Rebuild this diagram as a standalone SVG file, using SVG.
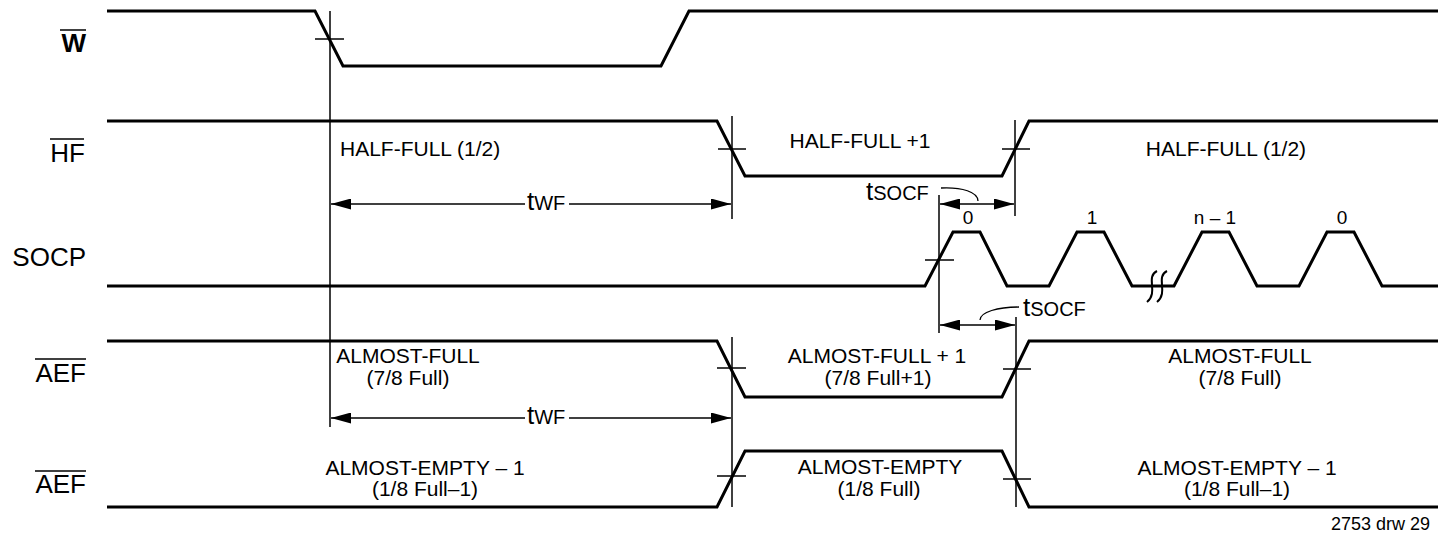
<svg xmlns="http://www.w3.org/2000/svg" width="1450" height="535" viewBox="0 0 1450 535">
<style>
.sig{fill:none;stroke:#000;stroke-width:3;stroke-linejoin:miter}
.ref{fill:none;stroke:#000;stroke-width:1.5}
.dim{fill:none;stroke:#000;stroke-width:1.3}
text{font-family:"Liberation Sans",Arial,sans-serif;fill:#000}
.lbl{font-size:26px;text-anchor:end}
.txt{font-size:21px;text-anchor:middle}
.num{font-size:19px;text-anchor:middle}
.t{font-size:26px}
.sub{font-size:20px}
</style>
<defs>
<marker id="ah" markerUnits="userSpaceOnUse" markerWidth="20" markerHeight="11" refX="20" refY="5.5" orient="auto-start-reverse">
<path d="M0,0 L20,5.5 L0,11 Z" fill="#000"/>
</marker>
</defs>
<rect width="1450" height="535" fill="#fff"/>

<g id="sig-W">
<text class="lbl" x="86" y="52" style="font-weight:bold">W</text>
<line class="ref" x1="60" y1="30" x2="86" y2="30"/>
<path class="sig" d="M107,11 H315 L343,66 H661 L689,11 H1438"/>
<line class="ref" x1="315" y1="39" x2="344" y2="39"/>
</g>

<g id="sig-HF">
<text class="lbl" x="85" y="162">HF</text>
<line class="ref" x1="50" y1="139" x2="84" y2="139"/>
<path class="sig" d="M107,121 H717 L745,176 H1002 L1029,121 H1438"/>
<line class="ref" x1="718" y1="149" x2="746" y2="149"/>
<line class="ref" x1="1002" y1="149" x2="1030" y2="149"/>
<text class="txt" x="340" y="156" style="text-anchor:start">HALF-FULL (1/2)</text>
<text class="txt" x="860" y="148">HALF-FULL +1</text>
<text class="txt" x="1226" y="156">HALF-FULL (1/2)</text>
</g>

<g id="sig-SOCP">
<text class="lbl" x="86" y="266">SOCP</text>
<path class="sig" d="M107,286 H925 L953,232 H980 L1007,286 H1049 L1077,232 H1104 L1132,286 H1174 L1202,232 H1229 L1257,286 H1299 L1327,232 H1354 L1382,286 H1438"/>
<line class="ref" x1="925" y1="260" x2="954" y2="260"/>
<path class="ref" d="M1157,271 C1145,277 1159,292 1147,302" style="stroke-width:2"/>
<path class="ref" d="M1167,271 C1155,277 1169,292 1157,302" style="stroke-width:2"/>
<text class="num" x="968" y="224">0</text>
<text class="num" x="1092" y="224">1</text>
<text class="num" x="1215" y="224">n – 1</text>
<text class="num" x="1342" y="224">0</text>
</g>

<g id="sig-AEF1">
<text class="lbl" x="86" y="382">AEF</text>
<line class="ref" x1="35" y1="359" x2="86" y2="359"/>
<path class="sig" d="M107,341 H717 L745,397 H1002 L1029,341 H1438"/>
<line class="ref" x1="717" y1="368" x2="746" y2="368"/>
<line class="ref" x1="1003" y1="369" x2="1031" y2="369"/>
<text class="txt" x="408" y="363">ALMOST-FULL</text>
<text class="txt" x="408" y="385">(7/8 Full)</text>
<text class="txt" x="877" y="363">ALMOST-FULL + 1</text>
<text class="txt" x="878" y="385">(7/8 Full+1)</text>
<text class="txt" x="1240" y="363">ALMOST-FULL</text>
<text class="txt" x="1240" y="385">(7/8 Full)</text>
</g>

<g id="sig-AEF2">
<text class="lbl" x="86" y="493">AEF</text>
<line class="ref" x1="35" y1="471" x2="86" y2="471"/>
<path class="sig" d="M107,507 H717 L745,451 H1002 L1029,507 H1438"/>
<line class="ref" x1="717" y1="476" x2="746" y2="476"/>
<line class="ref" x1="1003" y1="479" x2="1031" y2="479"/>
<text class="txt" x="425" y="475">ALMOST-EMPTY – 1</text>
<text class="txt" x="425" y="496">(1/8 Full–1)</text>
<text class="txt" x="880" y="474">ALMOST-EMPTY</text>
<text class="txt" x="879" y="496">(1/8 Full)</text>
<text class="txt" x="1237" y="475">ALMOST-EMPTY – 1</text>
<text class="txt" x="1237" y="496">(1/8 Full–1)</text>
</g>

<g id="connectors">
<line class="ref" x1="330" y1="11" x2="330" y2="427"/>
<line class="ref" x1="732" y1="116" x2="732" y2="219"/>
<line class="ref" x1="1015" y1="120" x2="1015" y2="216"/>
<line class="ref" x1="939" y1="195" x2="939" y2="333"/>
<line class="ref" x1="732" y1="337" x2="732" y2="507"/>
<line class="ref" x1="1016" y1="317" x2="1016" y2="507"/>

<line class="dim" x1="331" y1="204" x2="525" y2="204" marker-start="url(#ah)"/>
<line class="dim" x1="569" y1="204" x2="731" y2="204" marker-end="url(#ah)"/>
<text x="527" y="210"><tspan class="t">t</tspan><tspan class="sub">WF</tspan></text>

<line class="dim" x1="331" y1="418" x2="525" y2="418" marker-start="url(#ah)"/>
<line class="dim" x1="569" y1="418" x2="731" y2="418" marker-end="url(#ah)"/>
<text x="527" y="424"><tspan class="t">t</tspan><tspan class="sub">WF</tspan></text>

<line class="dim" x1="940" y1="204" x2="1014" y2="204" marker-start="url(#ah)" marker-end="url(#ah)"/>
<text x="866" y="200"><tspan class="t">t</tspan><tspan class="sub">SOCF</tspan></text>
<path class="dim" d="M941,188 C962,187 978,192 978,201"/>

<line class="dim" x1="940" y1="325" x2="1015" y2="325" marker-start="url(#ah)" marker-end="url(#ah)"/>
<text x="1023" y="316"><tspan class="t">t</tspan><tspan class="sub">SOCF</tspan></text>
<path class="dim" d="M1019,307 C998,307 980,312 980,320"/>
</g>

<text x="1430" y="530" style="font-size:18px;text-anchor:end">2753 drw 29</text>
</svg>
